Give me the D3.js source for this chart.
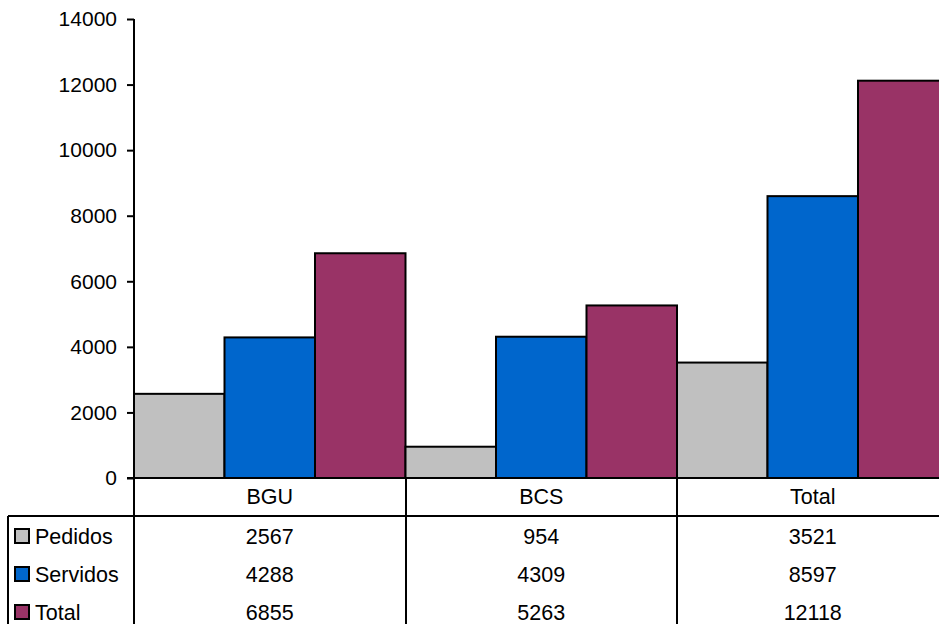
<!DOCTYPE html>
<html>
<head>
<meta charset="utf-8">
<script src="https://cdn.jsdelivr.net/npm/d3@7"></script>
<style>
  html, body { margin: 0; padding: 0; background: #fff; }
  svg { display: block; }
  text { font-family: "Liberation Sans", Arial, sans-serif; font-size: 21.5px; fill: #000; }
</style>
</head>
<body>
<svg id="chart" width="939" height="624"></svg>
<script>
const categories = ["BGU", "BCS", "Total"];
const seriesNames = ["Pedidos", "Servidos", "Total"];
const pedidos = [2567, 954, 3521];
const servidos = [4288, 4309, 8597];
const totales = [6855, 5263, 12118];
const yTicks = [0, 2000, 4000, 6000, 8000, 10000, 12000, 14000];
const colors = ["#C0C0C0", "#0066CC", "#993366"];

const seriesValues = [pedidos, servidos, totales];

const svg = d3.select("#chart");
const x0 = 134, x1 = 948.5, yTop = 19, yBottom = 478;
const tableTop = 516, rowH = 38, tableLeft = 8, svgH = 624;

const x = d3.scaleBand().domain(categories).range([x0, x1]).padding(0);
const xs = d3.scaleBand().domain(seriesNames.map((s, i) => i)).range([0, x.bandwidth()]).padding(0);
const y = d3.scaleLinear().domain([0, 14000]).range([yBottom, yTop]);

// bars
const g = svg.append("g");
categories.forEach((c, ci) => {
  seriesValues.forEach((vals, si) => {
    g.append("rect")
      .attr("x", x(c) + xs(si))
      .attr("y", y(vals[ci]))
      .attr("width", xs.bandwidth())
      .attr("height", y(0) - y(vals[ci]))
      .attr("fill", colors[si])
      .attr("stroke", "#000")
      .attr("stroke-width", 2);
  });
});

// y axis
const yAxis = d3.axisLeft(y).tickValues(yTicks).tickSize(7).tickPadding(10).tickFormat(d3.format("d"));
const ya = svg.append("g").attr("transform", `translate(${x0},0)`).call(yAxis);
ya.select(".domain").remove();
ya.selectAll(".tick line").attr("stroke", "#000").attr("stroke-width", 2);
ya.selectAll(".tick text").style("font-size", "21px").style("font-family", "Liberation Sans, Arial, sans-serif").attr("fill", "#000");

// axis lines
svg.append("line").attr("x1", x0).attr("x2", x0).attr("y1", yTop).attr("y2", svgH + 5)
  .attr("stroke", "#000").attr("stroke-width", 2);
svg.append("line").attr("x1", x0 - 7).attr("x2", x1).attr("y1", yBottom).attr("y2", yBottom)
  .attr("stroke", "#000").attr("stroke-width", 2);

// data table grid
svg.append("line").attr("x1", tableLeft).attr("x2", x1).attr("y1", tableTop).attr("y2", tableTop)
  .attr("stroke", "#000").attr("stroke-width", 2);
svg.append("line").attr("x1", tableLeft).attr("x2", tableLeft).attr("y1", tableTop).attr("y2", svgH + 5)
  .attr("stroke", "#000").attr("stroke-width", 2);
categories.forEach(c => {
  const lx = Math.round(x(c) + x.bandwidth());
  svg.append("line").attr("x1", lx).attr("x2", lx)
    .attr("y1", yBottom).attr("y2", svgH + 5).attr("stroke", "#000").attr("stroke-width", 2);
});

// category header
categories.forEach(c => {
  svg.append("text").attr("x", x(c) + x.bandwidth() / 2).attr("y", (yBottom + tableTop) / 2 + 7)
    .attr("text-anchor", "middle").text(c);
});

// rows
seriesNames.forEach((s, si) => {
  const cy = tableTop + rowH * si + rowH / 2 + 1;
  svg.append("rect").attr("x", 15).attr("y", cy - 7).attr("width", 14).attr("height", 14)
    .attr("fill", colors[si]).attr("stroke", "#000").attr("stroke-width", 2);
  svg.append("text").attr("x", 35).attr("y", cy + 8).text(s);
  categories.forEach((c, ci) => {
    svg.append("text").attr("x", x(c) + x.bandwidth() / 2).attr("y", cy + 8)
      .attr("text-anchor", "middle").text(seriesValues[si][ci]);
  });
});
</script>
</body>
</html>
